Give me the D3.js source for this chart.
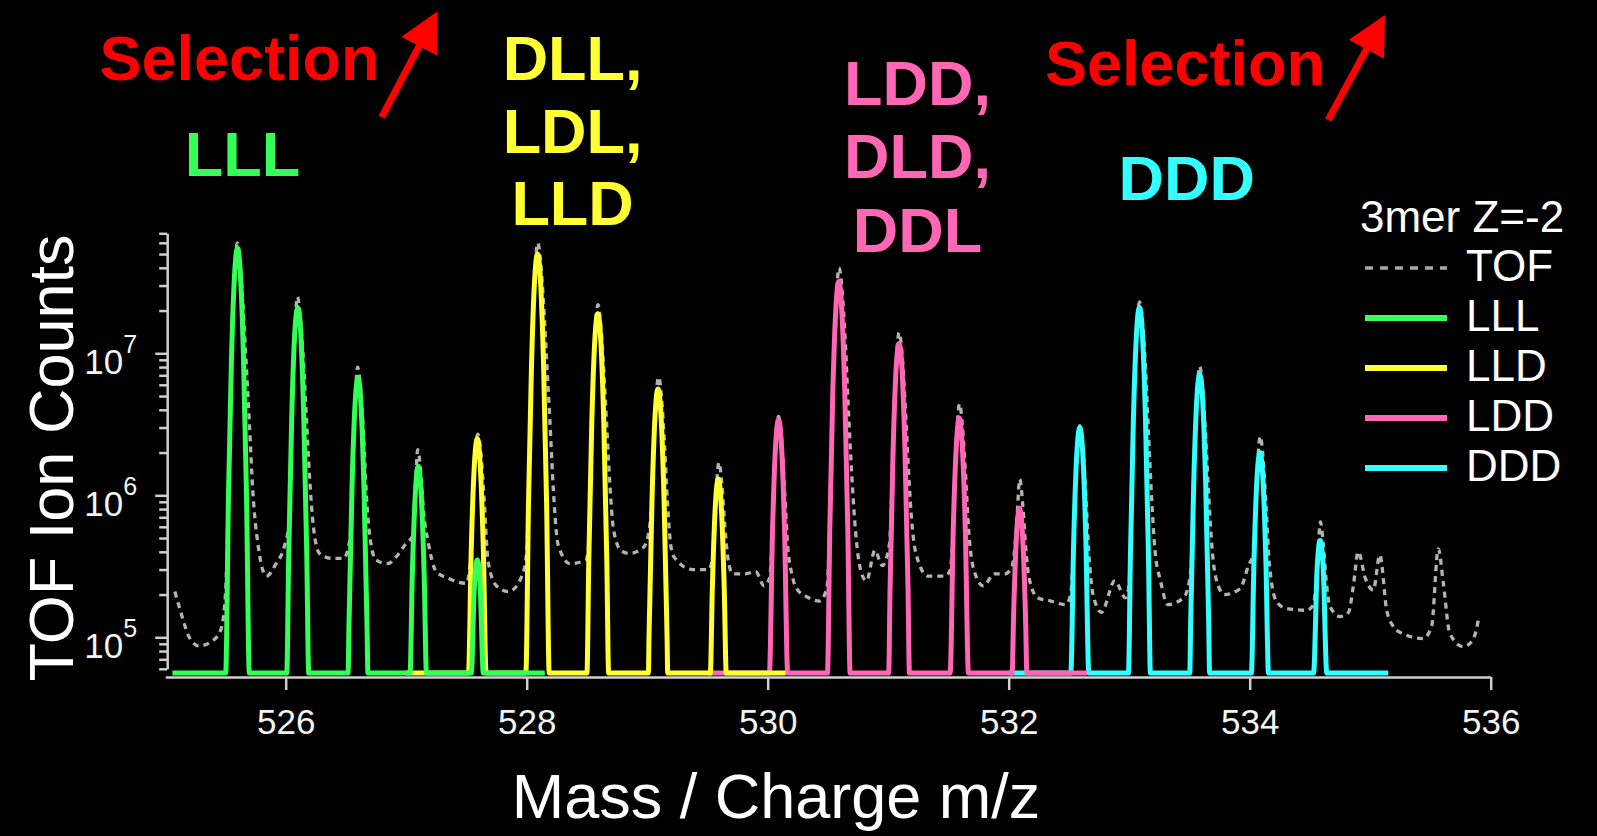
<!DOCTYPE html>
<html>
<head>
<meta charset="utf-8">
<script src="https://cdn.jsdelivr.net/npm/d3@7"></script>
<style>
  html, body { margin: 0; padding: 0; background: #000; }
  svg { display: block; }
  text { font-family: "Liberation Sans", Arial, sans-serif; }
</style>
</head>
<body>
<script>
/* CONSTANTS */
const WIDTH = 1597;
const HEIGHT = 836;
const FLOOR = 5.6e4; // flat base of the fitted isomer curves

/* DATA : [m/z, ion counts] */
const tof = [
  [525.08, 2.1e5], [525.13, 1.5e5], [525.20, 1.0e5], [525.28, 8.7e4], [525.38, 9.3e4], [525.46, 1.12e5],
  [525.50, 2.0e5], [525.525, 1.0e6], [525.55, 9.1e6], [525.575, 3.5e7], [525.597, 6.0e7], [525.622, 4.3e7],
  [525.647, 2.1e7], [525.672, 8.5e6], [525.697, 3.4e6], [525.727, 1.07e6], [525.77, 4.5e5], [525.84, 2.7e5],
  [525.92, 3.3e5], [525.99, 4.4e5],
  [526.03, 6.5e5], [526.05, 3.6e6], [526.075, 1.4e7], [526.097, 2.5e7], [526.122, 1.8e7], [526.147, 8.9e6],
  [526.172, 3.5e6], [526.197, 1.4e6], [526.23, 6.0e5], [526.28, 3.9e5], [526.38, 3.6e5], [526.48, 3.6e5],
  [526.535, 5.0e5], [526.55, 1.1e6], [526.575, 4.4e6], [526.597, 8.0e6], [526.622, 5.6e6], [526.647, 2.6e6],
  [526.67, 1.0e6], [526.70, 5.0e5], [526.75, 3.5e5], [526.845, 3.3e5], [526.93, 3.8e5], [527.00, 4.6e5],
  [527.055, 5.2e5], [527.075, 1.05e6], [527.095, 2.1e6], [527.12, 1.5e6], [527.145, 7.5e5], [527.18, 4.8e5],
  [527.25, 2.9e5], [527.35, 2.6e5], [527.50, 2.4e5],
  [527.54, 4.2e5], [527.565, 1.65e6], [527.595, 2.7e6], [527.62, 2.0e6], [527.645, 1.0e6], [527.68, 3.4e5],
  [527.75, 2.3e5], [527.85, 2.1e5], [527.96, 2.7e5],
  [528.0, 4.0e5], [528.015, 9.5e5], [528.04, 8.5e6], [528.065, 3.3e7], [528.092, 6.0e7], [528.117, 4.3e7],
  [528.142, 2.1e7], [528.167, 8.5e6], [528.192, 3.4e6], [528.222, 1.07e6], [528.26, 4.5e5], [528.36, 3.3e5], [528.49, 3.5e5],
  [528.52, 5.0e5], [528.54, 3.3e6], [528.565, 1.25e7], [528.592, 2.2e7], [528.617, 1.5e7], [528.642, 7.0e6],
  [528.665, 3.0e6], [528.69, 1.2e6], [528.72, 5.8e5], [528.78, 4.1e5], [528.85, 3.9e5], [528.97, 4.3e5],
  [529.02, 6.0e5], [529.04, 1.0e6], [529.065, 3.7e6], [529.095, 6.8e6], [529.12, 4.8e6], [529.145, 2.2e6],
  [529.168, 9.0e5], [529.20, 4.2e5], [529.23, 3.6e5], [529.38, 3.0e5], [529.51, 3.0e5],
  [529.55, 4.0e5], [529.567, 8.5e5], [529.595, 1.7e6], [529.62, 1.2e6], [529.645, 6.0e5], [529.67, 3.6e5],
  [529.71, 2.8e5], [529.81, 2.8e5], [529.90, 2.9e5], [529.97, 2.3e5],
  [530.015, 2.6e5], [530.04, 5.7e5], [530.065, 2.25e6], [530.09, 3.6e6], [530.115, 2.5e6], [530.14, 1.1e6],
  [530.165, 4.5e5], [530.20, 2.8e5], [530.24, 2.2e5], [530.34, 1.9e5], [530.43, 1.8e5],
  [530.49, 2.2e5], [530.515, 6.0e5], [530.54, 5.3e6], [530.565, 2.05e7], [530.592, 4.0e7], [530.617, 2.8e7],
  [530.642, 1.3e7], [530.667, 4.5e6], [530.692, 1.7e6], [530.722, 6.6e5], [530.78, 2.8e5], [530.82, 2.5e5],
  [530.89, 4.1e5], [530.95, 3.2e5],
  [531.01, 4.5e5], [531.04, 2.0e6], [531.065, 7.8e6], [531.09, 1.4e7], [531.115, 1.0e7], [531.14, 4.5e6],
  [531.165, 1.7e6], [531.19, 7.5e5], [531.23, 3.9e5], [531.33, 2.7e5], [531.475, 2.7e5],
  [531.515, 3.0e5], [531.54, 6.0e5], [531.565, 2.3e6], [531.592, 4.4e6], [531.617, 3.0e6], [531.642, 1.4e6],
  [531.667, 5.8e5], [531.71, 3.0e5], [531.79, 2.3e5], [531.88, 2.8e5], [531.97, 2.8e5],
  [532.03, 3.2e5], [532.062, 5.5e5], [532.092, 1.3e6], [532.117, 8.5e5], [532.142, 4.2e5], [532.17, 2.6e5],
  [532.24, 1.9e5], [532.35, 1.8e5], [532.47, 1.7e5],
  [532.515, 2.0e5], [532.54, 5.1e5], [532.565, 2.0e6], [532.59, 3.1e6], [532.615, 2.2e6], [532.64, 1.0e6],
  [532.665, 4.0e5], [532.70, 2.0e5], [532.77, 1.5e5], [532.88, 2.5e5], [532.97, 1.9e5],
  [532.995, 2.2e5], [533.01, 3.9e5], [533.035, 3.6e6], [533.06, 1.4e7], [533.087, 2.3e7], [533.112, 1.6e7],
  [533.137, 7.5e6], [533.16, 2.8e6], [533.185, 1.0e6], [533.215, 4.0e5], [533.26, 2.5e5], [533.32, 1.7e5], [533.45, 1.9e5],
  [533.50, 2.5e5], [533.52, 4.0e5], [533.535, 1.2e6], [533.56, 4.7e6], [533.585, 8.1e6], [533.61, 5.6e6],
  [533.635, 2.6e6], [533.66, 1.0e6], [533.69, 4.0e5], [533.72, 2.6e5], [533.79, 2.0e5], [533.92, 2.2e5], [533.99, 3.2e5],
  [534.035, 4.0e5], [534.06, 1.35e6], [534.087, 2.6e6], [534.112, 1.8e6], [534.137, 8.0e5], [534.162, 3.4e5],
  [534.22, 1.8e5], [534.30, 1.6e5], [534.47, 1.55e5], [534.53, 1.7e5],
  [534.56, 3.2e5], [534.587, 6.5e5], [534.61, 4.6e5], [534.635, 2.5e5], [534.666, 1.65e5], [534.75, 1.4e5],
  [534.82, 1.5e5], [534.86, 2.3e5],
  [534.90, 4.0e5], [534.96, 2.6e5], [535.026, 2.15e5], [535.08, 3.8e5], [535.137, 1.55e5], [535.19, 1.2e5],
  [535.26, 1.07e5], [535.44, 9.8e4],
  [535.51, 1.2e5], [535.565, 4.2e5], [535.607, 2.4e5], [535.66, 1.07e5], [535.77, 8.6e4], [535.85, 9.5e4], [535.90, 1.35e5]
];

const lll = [
  [525.06, FLOOR],
  [525.502, FLOOR], [525.525, 9.8e5], [525.55, 9.1e6], [525.575, 3.5e7], [525.60, 5.5e7], [525.625, 3.5e7], [525.65, 9.1e6], [525.675, 9.8e5], [525.698, FLOOR],
  [526.009, FLOOR], [526.025, 3.8e5], [526.05, 3.5e6], [526.075, 1.38e7], [526.10, 2.1e7], [526.125, 1.38e7], [526.15, 3.5e6], [526.175, 3.8e5], [526.191, FLOOR],
  [526.518, FLOOR], [526.525, 1.2e5], [526.55, 1.1e6], [526.575, 4.3e6], [526.60, 6.7e6], [526.625, 4.3e6], [526.65, 1.1e6], [526.675, 1.2e5], [526.682, FLOOR],
  [527.032, FLOOR], [527.05, 2.6e5], [527.075, 1.0e6], [527.10, 1.6e6], [527.125, 1.0e6], [527.15, 2.6e5], [527.168, FLOOR],
  [527.54, FLOOR], [527.565, 2.2e5], [527.59, 3.5e5], [527.615, 2.2e5], [527.64, FLOOR],
  [528.15, FLOOR]
];

const lld = [
  [527.0, FLOOR],
  [527.517, FLOOR], [527.54, 4.2e5], [527.565, 1.6e6], [527.59, 2.5e6], [527.615, 1.6e6], [527.64, 4.2e5], [527.663, FLOOR],
  [527.993, FLOOR], [528.015, 8.9e5], [528.04, 8.3e6], [528.065, 3.2e7], [528.09, 5.0e7], [528.115, 3.2e7], [528.14, 8.3e6], [528.165, 8.9e5], [528.187, FLOOR],
  [528.50, FLOOR], [528.515, 3.4e5], [528.54, 3.2e6], [528.565, 1.23e7], [528.59, 1.9e7], [528.615, 1.23e7], [528.64, 3.2e6], [528.665, 3.4e5], [528.68, FLOOR],
  [529.01, FLOOR], [529.015, 1.0e5], [529.04, 9.3e5], [529.065, 3.6e6], [529.09, 5.6e6], [529.115, 3.6e6], [529.14, 9.3e5], [529.165, 1.0e5], [529.17, FLOOR],
  [529.524, FLOOR], [529.54, 2.1e5], [529.565, 8.3e5], [529.59, 1.3e6], [529.615, 8.3e5], [529.64, 2.1e5], [529.656, FLOOR],
  [530.15, FLOOR]
];

const ldd = [
  [529.5, FLOOR],
  [530.014, FLOOR], [530.04, 5.6e5], [530.065, 2.2e6], [530.09, 3.4e6], [530.115, 2.2e6], [530.14, 5.6e5], [530.166, FLOOR],
  [530.496, FLOOR], [530.515, 5.6e5], [530.54, 5.2e6], [530.565, 2.0e7], [530.59, 3.2e7], [530.615, 2.0e7], [530.64, 5.2e6], [530.665, 5.6e5], [530.684, FLOOR],
  [531.004, FLOOR], [531.015, 2.1e5], [531.04, 1.95e6], [531.065, 7.6e6], [531.09, 1.17e7], [531.115, 7.6e6], [531.14, 1.95e6], [531.165, 2.1e5], [531.176, FLOOR],
  [531.514, FLOOR], [531.54, 5.8e5], [531.565, 2.2e6], [531.59, 3.5e6], [531.615, 2.2e6], [531.64, 5.8e5], [531.666, FLOOR],
  [532.029, FLOOR], [532.04, 1.35e5], [532.065, 5.2e5], [532.09, 8.1e5], [532.115, 5.2e5], [532.14, 1.35e5], [532.151, FLOOR],
  [532.65, FLOOR]
];

const ddd = [
  [532.0, FLOOR],
  [532.515, FLOOR], [532.54, 5.0e5], [532.565, 1.95e6], [532.59, 3.0e6], [532.615, 1.95e6], [532.64, 5.0e5], [532.665, FLOOR],
  [532.994, FLOOR], [533.01, 3.7e5], [533.035, 3.5e6], [533.06, 1.35e7], [533.085, 2.1e7], [533.11, 1.35e7], [533.135, 3.5e6], [533.16, 3.7e5], [533.176, FLOOR],
  [533.503, FLOOR], [533.51, 1.26e5], [533.535, 1.17e6], [533.56, 4.6e6], [533.585, 7.1e6], [533.61, 4.6e6], [533.635, 1.17e6], [533.66, 1.26e5], [533.667, FLOOR],
  [534.014, FLOOR], [534.035, 3.3e5], [534.06, 1.3e6], [534.085, 2.0e6], [534.11, 1.3e6], [534.135, 3.3e5], [534.156, FLOOR],
  [534.53, FLOOR], [534.56, 3.1e5], [534.585, 4.8e5], [534.61, 3.1e5], [534.64, FLOOR],
  [535.15, FLOOR]
];

const series = [
  { name: "LLL", color: "#33ff57", values: lll },
  { name: "LLD", color: "#ffff33", values: lld },
  { name: "LDD", color: "#ff66b3", values: ldd },
  { name: "DDD", color: "#33ffff", values: ddd }
];

const xTicks = [526, 528, 530, 532, 534, 536];
const yMajorTicks = [1e5, 1e6, 1e7];
const yMinorTicks = [6e4, 7e4, 8e4, 9e4,
  2e5, 3e5, 4e5, 5e5, 6e5, 7e5, 8e5, 9e5,
  2e6, 3e6, 4e6, 5e6, 6e6, 7e6, 8e6, 9e6,
  2e7, 3e7, 4e7, 5e7, 6e7, 7e7];

// annotations placed in data coordinates (m/z, counts), like text() in the plot
const labels = [
  { lines: ["Selection"], color: "#ff0000", mz: 525.617, at: [8.4e8] },
  { lines: ["LLL"], color: "#33ff57", mz: 525.641, at: [1.77e8] },
  { lines: ["DLL,", "LDL,", "LLD"], color: "#ffff33", mz: 528.381, at: [8.4e8, 2.56e8, 8.0e7] },
  { lines: ["LDD,", "DLD,", "DDL"], color: "#ff66b3", mz: 531.243, at: [5.6e8, 1.71e8, 5.2e7] },
  { lines: ["Selection"], color: "#ff0000", mz: 533.463, at: [7.8e8] },
  { lines: ["DDD"], color: "#33ffff", mz: 533.477, at: [1.2e8] }
];
const arrows = [
  { from: [526.797, 4.6e8], to: [527.258, 2.55e9] },
  { from: [534.652, 4.4e8], to: [535.123, 2.41e9] }
];

/* D3 */
const svg = d3.select("body")
  .append("svg")
  .attr("width", WIDTH)
  .attr("height", HEIGHT)
  .style("background", "#000");

const x = d3.scaleLinear().domain([526, 536]).range([285.7, 1490.7]);
const y = d3.scaleLog().domain([1e5, 1e7]).range([637.3, 353.3]);

const xAxisY = 677;
const yAxisX = x(525) + 2;

const line = d3.line()
  .x(d => x(d[0]))
  .y(d => y(d[1]))
  .curve(d3.curveMonotoneX);

// TOF trace underneath the isomer curves
svg.append("path")
  .attr("fill", "none")
  .attr("stroke", "#b3b3b3")
  .attr("stroke-width", 3.3)
  .attr("stroke-dasharray", "6,5")
  .attr("d", line(tof));

// isomer curves, DDD first so LLL ends up on top
svg.append("g")
  .selectAll("path")
  .data(series.slice().reverse())
  .enter()
  .append("path")
  .attr("fill", "none")
  .attr("stroke", d => d.color)
  .attr("stroke-width", 5)
  .attr("stroke-linejoin", "round")
  .attr("d", d => line(d.values));

// x axis
const xAxisScale = x.copy().domain([525, 536]).range([x(525), x(536)]);
const gx = svg.append("g")
  .attr("transform", `translate(0,${xAxisY})`)
  .attr("color", "#cfcfcf")
  .call(d3.axisBottom(xAxisScale).tickValues(xTicks).tickSize(13).tickSizeOuter(0).tickFormat(d3.format("d")));
gx.selectAll("path, line").attr("stroke-width", 2.5);
gx.selectAll("text")
  .attr("fill", "#f4f4f4")
  .attr("font-size", 35)
  .attr("y", 57)
  .attr("dy", 0);

// y axis: minor and major ticks
const yAxisScale = y.copy().domain([6e4, 7e7]).range([y(6e4), y(7e7)]);
const gyMinor = svg.append("g")
  .attr("transform", `translate(${yAxisX},0)`)
  .attr("color", "#cfcfcf")
  .call(d3.axisLeft(yAxisScale).tickValues(yMinorTicks).tickSize(8).tickSizeOuter(0).tickFormat(""));
gyMinor.selectAll("path, line").attr("stroke-width", 2.5);

const gyMajor = svg.append("g")
  .attr("transform", `translate(${yAxisX},0)`)
  .attr("color", "#cfcfcf")
  .call(d3.axisLeft(yAxisScale).tickValues(yMajorTicks).tickSize(12).tickSizeOuter(0).tickFormat(""));
gyMajor.select(".domain").remove();
gyMajor.selectAll("line").attr("stroke-width", 2.5);

const yLab = svg.append("g")
  .selectAll("text")
  .data(yMajorTicks)
  .enter()
  .append("text")
  .attr("x", yAxisX - 30)
  .attr("y", d => y(d) + 21)
  .attr("text-anchor", "end")
  .attr("fill", "#f4f4f4")
  .attr("font-size", 35);
yLab.append("tspan").text("10");
yLab.append("tspan")
  .attr("dy", -21)
  .attr("font-size", 25)
  .text(d => Math.round(Math.log10(d)));

// axis titles
svg.append("text")
  .attr("transform", "translate(73,458) rotate(-90)")
  .attr("text-anchor", "middle")
  .attr("fill", "#fff")
  .attr("font-size", 63)
  .text("TOF Ion Counts");

svg.append("text")
  .attr("x", 776)
  .attr("y", 818)
  .attr("text-anchor", "middle")
  .attr("fill", "#fff")
  .attr("font-size", 63)
  .text("Mass / Charge m/z");

// annotations
labels.forEach(l => {
  l.lines.forEach((t, i) => {
    svg.append("text")
      .attr("x", x(l.mz))
      .attr("y", y(l.at[i]))
      .attr("text-anchor", "middle")
      .attr("fill", l.color)
      .attr("font-size", 63)
      .attr("font-weight", "bold")
      .text(t);
  });
});

arrows.forEach(a => {
  const x0 = x(a.from[0]), y0 = y(a.from[1]);
  const x1 = x(a.to[0]), y1 = y(a.to[1]);
  const len = Math.hypot(x1 - x0, y1 - y0);
  const ux = (x1 - x0) / len, uy = (y1 - y0) / len;
  const headLen = 39, headHalf = 20;
  const bx = x1 - ux * headLen, by = y1 - uy * headLen;
  svg.append("line")
    .attr("x1", x0).attr("y1", y0)
    .attr("x2", bx + ux * 4).attr("y2", by + uy * 4)
    .attr("stroke", "#ff0000")
    .attr("stroke-width", 7);
  svg.append("path")
    .attr("fill", "#ff0000")
    .attr("d", `M${x1},${y1}L${bx - uy * headHalf},${by + ux * headHalf}L${bx + uy * headHalf},${by - ux * headHalf}Z`);
});

// legend
const legend = svg.append("g");
legend.append("text")
  .attr("x", 1360)
  .attr("y", 232)
  .attr("fill", "#fff")
  .attr("font-size", 44)
  .text("3mer Z=-2");

const legendItems = [{ name: "TOF", color: "#a8a8a8", dash: "8,7" }]
  .concat(series.map(s => ({ name: s.name, color: s.color, dash: null })));

const li = legend.selectAll("g.item")
  .data(legendItems)
  .enter()
  .append("g")
  .attr("class", "item")
  .attr("transform", (d, i) => `translate(0,${268 + i * 50})`);
li.append("line")
  .attr("x1", 1365)
  .attr("x2", 1447)
  .attr("stroke", d => d.color)
  .attr("stroke-width", d => d.dash ? 3.5 : 6)
  .attr("stroke-dasharray", d => d.dash);
li.append("text")
  .attr("x", 1466)
  .attr("y", 13)
  .attr("fill", "#fff")
  .attr("font-size", 44)
  .text(d => d.name);
</script>
</body>
</html>
